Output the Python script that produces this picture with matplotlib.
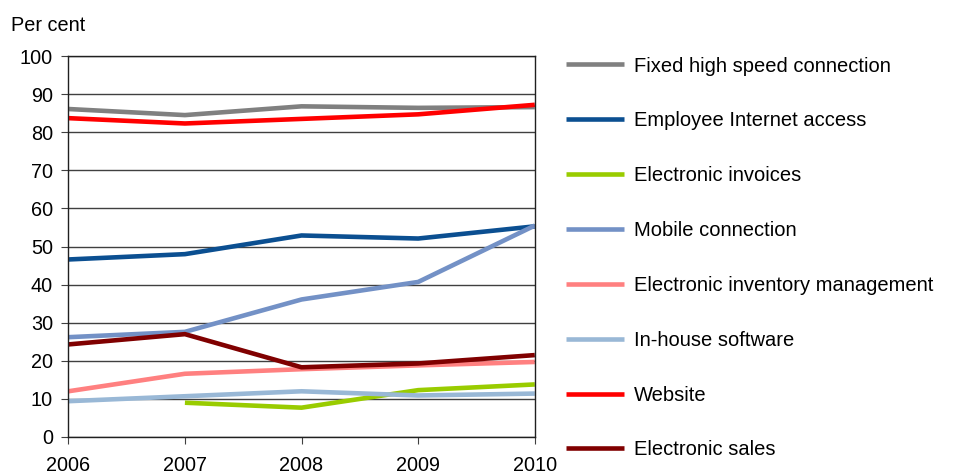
import numpy as np
import matplotlib
matplotlib.use("Agg")
from matplotlib import pyplot as plt

plt.rcParams['font.family'] = ['Liberation Sans', 'DejaVu Sans']

# Data
years = [2006, 2007, 2008, 2009, 2010]
fixed_high_speed = [86.1, 84.5, 86.8, 86.4, 86.6]
employee_internet = [46.6, 48.0, 52.9, 52.1, 55.3]
electronic_invoices = [np.nan, 9.0, 7.7, 12.3, 13.8]
mobile_connection = [26.2, 27.6, 36.1, 40.7, 55.5]
inventory_management = [12.0, 16.6, 17.8, 18.8, 19.7]
inhouse_software = [9.4, 10.7, 12.0, 10.9, 11.4]
website = [83.7, 82.3, 83.5, 84.7, 87.2]
electronic_sales = [24.3, 27.0, 18.3, 19.3, 21.5]

series = [
    ("Fixed high speed connection", fixed_high_speed, "#808080"),
    ("Employee Internet access", employee_internet, "#0B4F91"),
    ("Electronic invoices", electronic_invoices, "#99CC00"),
    ("Mobile connection", mobile_connection, "#7391C6"),
    ("Electronic inventory management", inventory_management, "#FF8080"),
    ("In-house software", inhouse_software, "#99B8D6"),
    ("Website", website, "#FF0000"),
    ("Electronic sales", electronic_sales, "#800000"),
]

fig = plt.figure(figsize=(9.55, 4.75), dpi=100)
ax = fig.add_axes([0.0715, 0.080, 0.4885, 0.802])

for label, vals, color in series:
    ax.plot(years, vals, color=color, lw=3.3, label=label, solid_capstyle='butt')

ax.set_xlim(2006, 2010)
ax.set_ylim(0, 100)
ax.set_xticks(years)
ax.set_yticks(range(0, 101, 10))
ax.yaxis.grid(True, color='#404040', lw=1.0)
ax.set_axisbelow(True)
for s in ax.spines.values():
    s.set_linewidth(1.0)
    s.set_color('#202020')
ax.tick_params(axis='both', labelsize=14.3, length=5, direction='out', color='#404040')
ax.tick_params(axis='x', pad=8.5)
ax.tick_params(axis='y', pad=6)

fig.text(0.011, 0.935, "Per cent", fontsize=14.3, va='baseline', ha='left')

fig.legend(loc='upper left', bbox_to_anchor=(0.584, 0.898), frameon=False,
           fontsize=14.5, handlelength=2.88, handletextpad=0.5, labelspacing=1.78,
           borderaxespad=0)

fig.savefig("out.png", dpi=100)
